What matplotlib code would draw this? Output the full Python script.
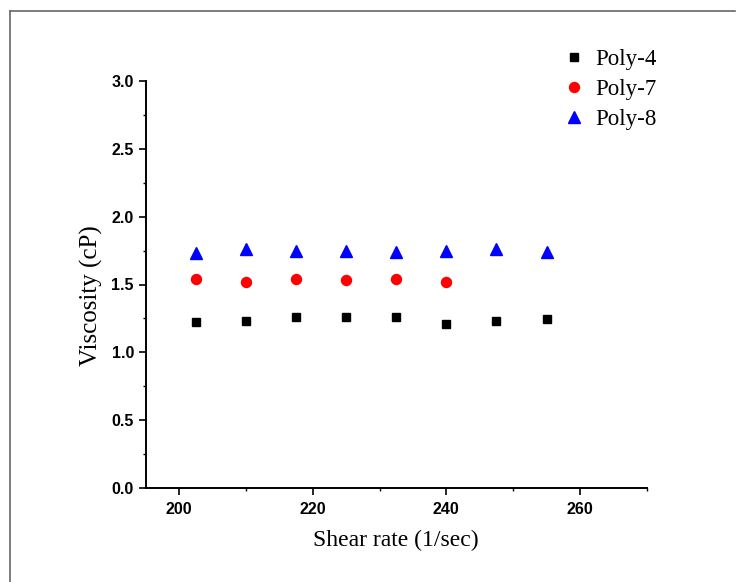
import matplotlib
matplotlib.use("Agg")
import matplotlib.pyplot as plt
from matplotlib.lines import Line2D
from matplotlib.ticker import MultipleLocator

shear_rate = [202.5, 210, 217.5, 225, 232.5, 240, 247.5, 255]
poly4 = [1.222, 1.234, 1.264, 1.264, 1.264, 1.212, 1.232, 1.247]
poly7_x = [202.5, 210, 217.5, 225, 232.5, 240]
poly7 = [1.541, 1.519, 1.539, 1.532, 1.539, 1.519]
poly8 = [1.73, 1.76, 1.747, 1.75, 1.742, 1.745, 1.762, 1.74]

xticks = [200, 220, 240, 260]
yticks = [0.0, 0.5, 1.0, 1.5, 2.0, 2.5, 3.0]

W, H = 743, 582
fig = plt.figure(figsize=(W / 100, H / 100), dpi=100)
ax = fig.add_axes([145.7 / W, 1 - 488.3 / H, (646.7 - 145.7) / W, (488.3 - 80.7) / H])

serif = ["Liberation Serif", "DejaVu Serif"]
sans = ["Liberation Sans", "DejaVu Sans"]

ax.plot(shear_rate, poly4, linestyle="none", marker="s", ms=6.3, color="black", label="Poly-4")
ax.plot(poly7_x, poly7, linestyle="none", marker="o", ms=7.2, color="red", label="Poly-7")
ax.plot(shear_rate, poly8, linestyle="none", marker="^", ms=8.2, color="blue", label="Poly-8")

ax.set_xlim(195, 270)
ax.set_ylim(0, 3.0)
ax.set_xticks(xticks)
ax.set_yticks(yticks)
ax.set_xticklabels([str(v) for v in xticks])
ax.set_yticklabels([f"{v:.1f}" for v in yticks])
ax.xaxis.set_minor_locator(MultipleLocator(10))
ax.yaxis.set_minor_locator(MultipleLocator(0.25))

for s in ["top", "right"]:
    ax.spines[s].set_visible(False)
for s in ["left", "bottom"]:
    ax.spines[s].set_linewidth(1.4)

ax.tick_params(which="major", direction="out", length=5, width=1.2, pad=3.5)
ax.tick_params(which="minor", direction="out", length=2.5, width=1.0)
ax.tick_params(axis="x", which="major", pad=5)
for lab in ax.get_xticklabels() + ax.get_yticklabels():
    lab.set_family(sans)
    lab.set_fontweight("bold")
    lab.set_fontsize(11.5)

ax.set_xlabel("Shear rate (1/sec)", family=serif, fontsize=17, labelpad=9)
ax.set_ylabel("Viscosity (cP)", family=serif, fontsize=18, labelpad=8)
ax.yaxis.set_label_coords(-0.085, 0.472)

leg = fig.legend(loc="upper left", bbox_to_anchor=(551 / W, 1 - 40 / H), frameon=False,
                 prop={"family": serif, "size": 16.5}, handletextpad=0.35,
                 labelspacing=0.38, handlelength=1.2, borderaxespad=0)

# figure border (top and left)
fig.add_artist(Line2D([9.5 / W, 9.5 / W], [0, 1 - 10.5 / H], transform=fig.transFigure,
                      color="#666666", lw=1.2))
fig.add_artist(Line2D([9.5 / W, 735 / W], [1 - 10.5 / H, 1 - 10.5 / H], transform=fig.transFigure,
                      color="#666666", lw=1.2))

fig.savefig("out.png", dpi=100)
